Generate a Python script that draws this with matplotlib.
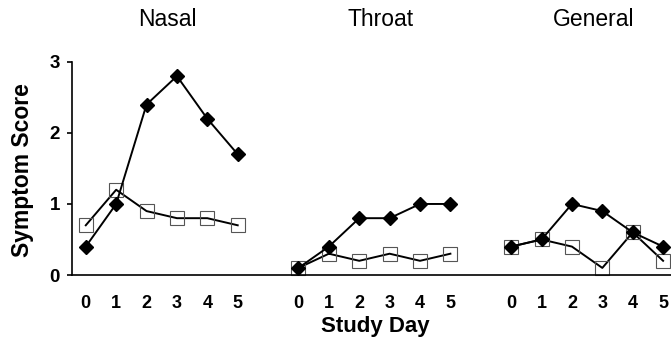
import numpy as np
import matplotlib.pyplot as plt

plt.rcParams['font.family'] = ['Liberation Sans', 'DejaVu Sans']

# Datos
panels = ['Nasal', 'Throat', 'General']
days = [0, 1, 2, 3, 4, 5]
diamond_vals = [
    [0.4, 1.0, 2.4, 2.8, 2.2, 1.7],
    [0.1, 0.4, 0.8, 0.8, 1.0, 1.0],
    [0.4, 0.5, 1.0, 0.9, 0.6, 0.4],
]
square_vals = [
    [0.7, 1.2, 0.9, 0.8, 0.8, 0.7],
    [0.1, 0.3, 0.2, 0.3, 0.2, 0.3],
    [0.4, 0.5, 0.4, 0.1, 0.6, 0.2],
]

fig = plt.figure(figsize=(6.71, 3.41), dpi=100)
ax = fig.add_axes([0.107, 0.1935, 0.893, 0.625])

gap = 7
for i, name in enumerate(panels):
    x = np.array(days) + i * gap
    ax.plot(x, square_vals[i], color='black', lw=1.4, marker='s', ms=10.5,
            mfc='none', mec='#555555', mew=0.8, clip_on=False, zorder=2)
    ax.plot(x, diamond_vals[i], color='black', lw=1.4, marker='D', ms=7.5,
            mfc='black', mec='black', clip_on=False, zorder=3)
    ax.text(x.mean() + 0.2, 3.6, name, ha='center', va='center', fontsize=16.5)

ticks = [d + i * gap for i in range(len(panels)) for d in days]
ax.set_xticks(ticks)
ax.set_xticklabels([str(d) for _ in panels for d in days])
ax.set_xlim(-0.46, 19.26)
ax.set_ylim(0, 3)
ax.set_yticks([0, 1, 2, 3])

for s in ['top', 'right']:
    ax.spines[s].set_visible(False)
ax.spines['left'].set_linewidth(1.2)
ax.spines['bottom'].set_linewidth(1.2)

ax.tick_params(axis='x', length=0, pad=14.5, labelsize=13)
ax.tick_params(axis='y', length=3.5, width=1.2, pad=5, labelsize=13.5)
for lab in ax.get_xticklabels() + ax.get_yticklabels():
    lab.set_fontweight('bold')

fig.text(0.559, 0.074, 'Study Day', ha='center', va='top',
         fontsize=16, fontweight='bold')
fig.text(0.033, 0.50, 'Symptom Score', ha='center', va='center',
         rotation=90, fontsize=16.5, fontweight='bold')

fig.savefig('out.png', dpi=100)
